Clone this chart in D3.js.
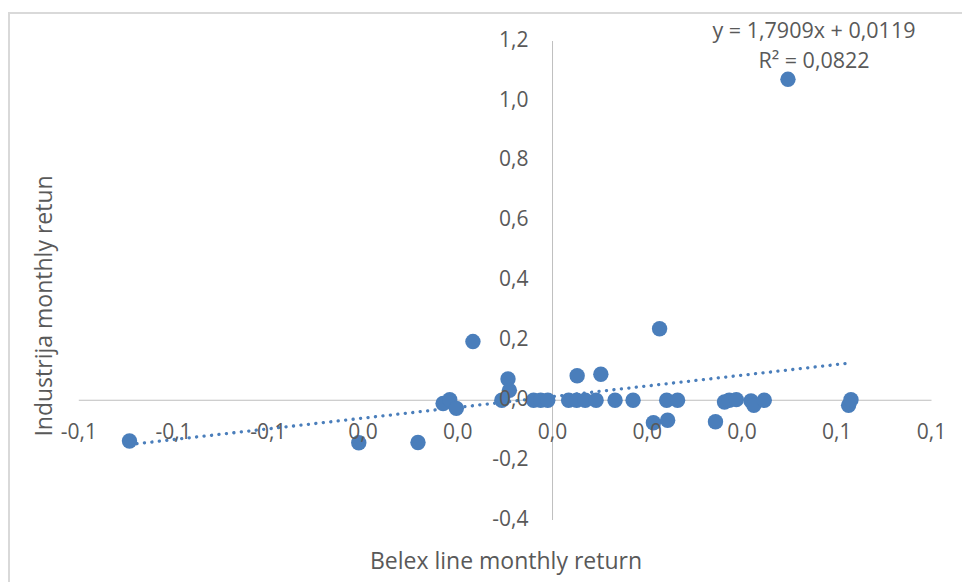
<!DOCTYPE html>
<html>
<head>
<meta charset="utf-8">
<script src="https://cdn.jsdelivr.net/npm/d3@7"></script>
<style>
  body { margin: 0; background: #fff; }
  text { font-family: "Open Sans", sans-serif; fill: #595959; }
</style>
</head>
<body>
<svg id="chart" width="962" height="582"></svg>
<script>
// monthly returns
var belexReturn = [-0.0893, -0.0409, -0.0284, -0.0168, -0.0231, -0.0217, -0.0203, -0.0107, -0.0094, -0.0091,
  -0.0040, -0.0025, -0.0010, 0.0034, 0.0051, 0.0069, 0.0092, 0.0052, 0.0102, 0.0132,
  0.0170, 0.0213, 0.0226, 0.0243, 0.0241, 0.0264, 0.0344, 0.0363, 0.0373, 0.0388,
  0.0419, 0.0425, 0.0447, 0.0497, 0.0625, 0.0630];
var industrijaReturn = [-0.136, -0.142, -0.141, 0.196, -0.011, 0.002, -0.027, 0.000, 0.071, 0.033,
  0.000, 0.000, 0.000, 0.000, 0.000, 0.000, 0.000, 0.082, 0.087, 0.000,
  0.000, -0.075, 0.239, -0.067, 0.000, 0.000, -0.072, -0.006, 0.000, 0.002,
  -0.002, -0.017, 0.000, 1.072, -0.017, 0.002];

var xTicks = [-0.1, -0.08, -0.06, -0.04, -0.02, 0, 0.02, 0.04, 0.06, 0.08];
var xTickLabels = ["-0,1", "-0,1", "-0,1", "0,0", "0,0", "0,0", "0,0", "0,0", "0,1", "0,1"];
var yTicks = [-0.4, -0.2, 0, 0.2, 0.4, 0.6, 0.8, 1.0, 1.2];
var yTickLabels = ["-0,4", "-0,2", "0,0", "0,2", "0,4", "0,6", "0,8", "1,0", "1,2"];

var slope = 1.7909, intercept = 0.0119;
var trendLabels = ["y = 1,7909x + 0,0119", "R² = 0,0822"];

var svg = d3.select("#chart");
var blue = "#4a7ebb";

var x = d3.scaleLinear().domain([-0.1, 0.08]).range([78.8, 931.5]);
var y = d3.scaleLinear().domain([-0.4, 1.2]).range([520, 41]);

// chart frame
svg.append("rect")
  .attr("x", 9).attr("y", 13)
  .attr("width", 980).attr("height", 600)
  .attr("fill", "#fff")
  .attr("stroke", "#d9d9d9")
  .attr("stroke-width", 2);

// axis lines cross at zero
svg.append("line")
  .attr("x1", x(-0.1)).attr("x2", x(0.08))
  .attr("y1", y(0)).attr("y2", y(0))
  .attr("stroke", "#bfbfbf").attr("stroke-width", 1);

svg.append("line")
  .attr("x1", x(0)).attr("x2", x(0))
  .attr("y1", y(-0.4)).attr("y2", y(1.2))
  .attr("stroke", "#bfbfbf").attr("stroke-width", 1);

// linear trendline
var ext = d3.extent(belexReturn);
svg.append("path")
  .datum(ext)
  .attr("d", d3.line()
    .x(function (d) { return x(d); })
    .y(function (d) { return y(slope * d + intercept); }))
  .attr("fill", "none")
  .attr("stroke", blue)
  .attr("stroke-width", 3.3)
  .attr("stroke-linecap", "round")
  .attr("stroke-dasharray", "0.1 7.4");

// points
svg.append("g")
  .selectAll("circle")
  .data(belexReturn)
  .enter().append("circle")
  .attr("cx", function (d) { return x(d); })
  .attr("cy", function (d, i) { return y(industrijaReturn[i]); })
  .attr("r", 7.7)
  .attr("fill", blue);

// tick labels
svg.append("g")
  .selectAll("text")
  .data(xTicks)
  .enter().append("text")
  .attr("x", function (d) { return x(d); })
  .attr("y", y(0) + 33)
  .attr("text-anchor", "middle")
  .attr("dominant-baseline", "middle")
  .attr("font-size", 21)
  .text(function (d, i) { return xTickLabels[i]; });

svg.append("g")
  .selectAll("text")
  .data(yTicks)
  .enter().append("text")
  .attr("x", x(0) - 24)
  .attr("y", function (d) { return y(d); })
  .attr("text-anchor", "end")
  .attr("dominant-baseline", "middle")
  .attr("font-size", 21)
  .text(function (d, i) { return yTickLabels[i]; });

// axis titles
svg.append("text")
  .attr("x", 506).attr("y", 563)
  .attr("text-anchor", "middle")
  .attr("dominant-baseline", "middle")
  .attr("font-size", 23)
  .text("Belex line monthly return");

svg.append("text")
  .attr("transform", "translate(46,306) rotate(-90)")
  .attr("text-anchor", "middle")
  .attr("dominant-baseline", "middle")
  .attr("font-size", 23)
  .text("Industrija monthly retun");

// trendline equation
svg.append("g")
  .selectAll("text")
  .data(trendLabels)
  .enter().append("text")
  .attr("x", 814)
  .attr("y", function (d, i) { return 32 + i * 30; })
  .attr("text-anchor", "middle")
  .attr("dominant-baseline", "middle")
  .attr("font-size", 21.5)
  .text(function (d) { return d; });
</script>
</body>
</html>
